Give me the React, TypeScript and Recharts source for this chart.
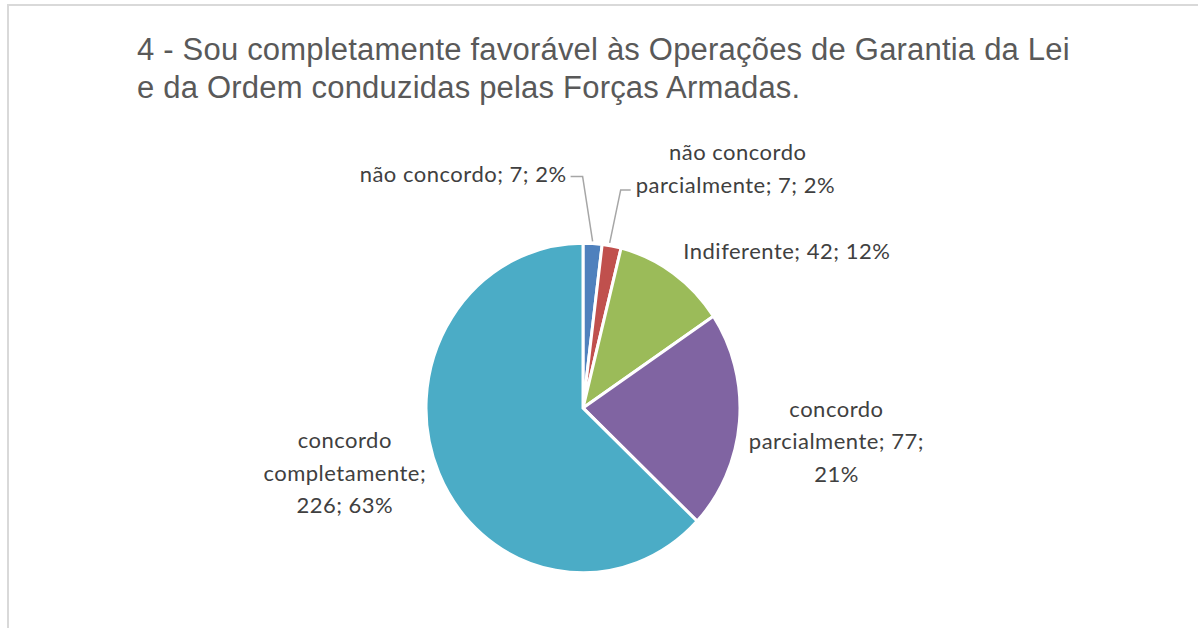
import { PieChart, Pie, Cell } from 'recharts';

const categories = [
  'não concordo',
  'não concordo parcialmente',
  'Indiferente',
  'concordo parcialmente',
  'concordo completamente',
];
const counts = [7, 7, 42, 77, 226];
const colors = ['#4f81bd', '#c0504d', '#9bbb59', '#8064a2', '#4bacc6'];

const total = counts.reduce((a, b) => a + b, 0);
const pct = (v: number) => `${Math.round((v / total) * 100)}%`;

// where each category label breaks onto a new line
const labelLines = [
  [`${categories[0]}; ${counts[0]}; ${pct(counts[0])}`],
  ['não concordo', `parcialmente; ${counts[1]}; ${pct(counts[1])}`],
  [`${categories[2]}; ${counts[2]}; ${pct(counts[2])}`],
  ['concordo', `parcialmente; ${counts[3]};`, pct(counts[3])],
  ['concordo', 'completamente;', `${counts[4]}; ${pct(counts[4])}`],
];

// label placement relative to the slice edge at its mid angle
const labelLayout = [
  { dx: -26, dy: -70, anchor: 'end', leader: [[0, -2], [-10, -67], [-22, -67]] },
  { dx: 24, dy: -78, anchor: 'start', leader: [[-2, -3], [9, -56], [19, -56]], firstLineCenter: 126 },
  { dx: 10, dy: -23, anchor: 'start' },
  { dx: 97, dy: 19, anchor: 'middle' },
  { dx: -94, dy: -1, anchor: 'middle' },
];

const data = categories.map((name, i) => ({ name, value: counts[i] }));

const CX = 583;
const CY = 408;
const R = 157;
const SQUASH = 1.05;
const LINE_H = 32.5;
const RADIAN = Math.PI / 180;

const renderLabel = (props: any) => {
  const { cx, cy, midAngle, outerRadius, index } = props;
  const ex = cx + outerRadius * Math.cos(-midAngle * RADIAN);
  const ey = cy + outerRadius * SQUASH * Math.sin(-midAngle * RADIAN);
  const lay: any = labelLayout[index];
  const lines = labelLines[index];
  const x = ex + lay.dx;
  const yMid = ey + lay.dy;
  const y0 = yMid - ((lines.length - 1) * LINE_H) / 2;
  return (
    <g key={`lbl-${index}`}>
      {lay.leader && (
        <polyline
          points={lay.leader.map((p: number[]) => `${ex + p[0]},${ey + p[1]}`).join(' ')}
          fill="none"
          stroke="#a6a6a6"
          strokeWidth={1.5}
        />
      )}
      {lines.map((t, j) => {
        const isSplitHead = lay.firstLineCenter && j === 0 && lines.length > 1;
        return (
          <text
            key={j}
            x={isSplitHead ? ex + lay.firstLineCenter : x}
            y={y0 + j * LINE_H}
            textAnchor={isSplitHead ? 'middle' : lay.anchor}
            dominantBaseline="central"
            fill="#404040"
            fontSize={22}
            letterSpacing={0.5}
            fontFamily="Lato, 'Noto Sans', sans-serif"
          >
            {t}
          </text>
        );
      })}
    </g>
  );
};

export default function App() {
  return (
    <div
      style={{
        position: 'absolute',
        left: 0,
        top: 0,
        width: 1198,
        height: 628,
        background: '#fff',
        overflow: 'hidden',
      }}
    >
      <style>{`.squash-pie .recharts-pie-sector { transform: scaleY(${SQUASH}); transform-origin: ${CX}px ${CY}px; }`}</style>
      <div
        style={{
          position: 'absolute',
          left: 7,
          top: 4,
          width: 1200,
          height: 640,
          borderLeft: '2px solid #d9d9d9',
          borderTop: '2px solid #d9d9d9',
        }}
      />
      <div
        style={{
          position: 'absolute',
          left: 137,
          top: 31,
          fontFamily: "'Liberation Sans', Arial, sans-serif",
          fontSize: 31,
          letterSpacing: 0.2,
          lineHeight: '38px',
          color: '#595959',
          whiteSpace: 'nowrap',
        }}
      >
        4 - Sou completamente favorável às Operações de Garantia da Lei
        <br />e da Ordem conduzidas pelas Forças Armadas.
      </div>
      <PieChart
        width={1198}
        height={628}
        margin={{ top: 0, right: 0, bottom: 0, left: 0 }}
        style={{ position: 'absolute', left: 0, top: 0 }}
      >
        <Pie
          className="squash-pie"
          data={data}
          dataKey="value"
          nameKey="name"
          cx={CX}
          cy={CY}
          outerRadius={R}
          startAngle={90}
          endAngle={-270}
          stroke="#fff"
          strokeWidth={3}
          label={renderLabel}
          labelLine={false}
          isAnimationActive={false}
        >
          {data.map((d, i) => (
            <Cell key={d.name} fill={colors[i]} />
          ))}
        </Pie>
      </PieChart>
    </div>
  );
}
